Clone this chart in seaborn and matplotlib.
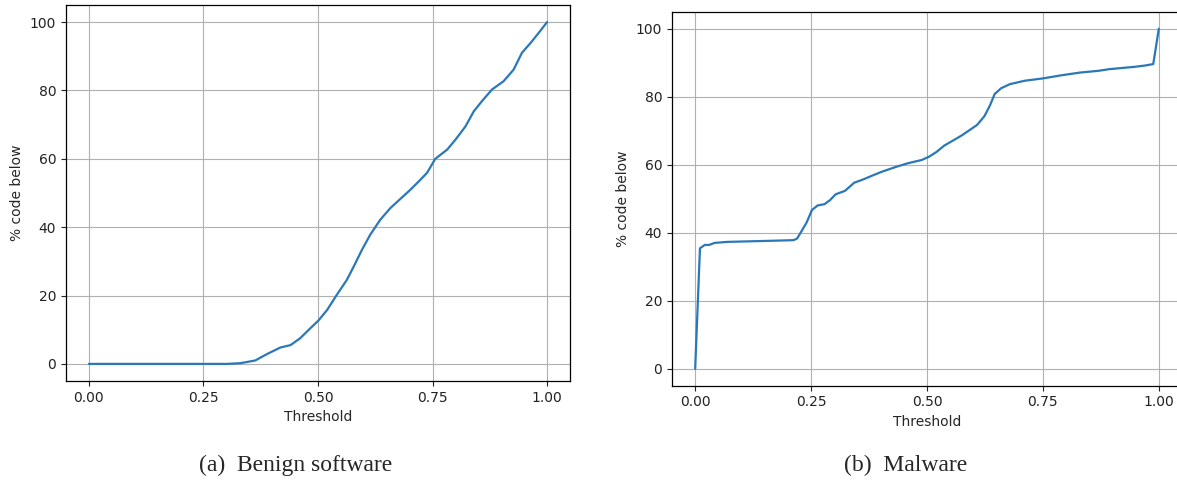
import numpy as np
import pandas as pd
import matplotlib
matplotlib.use("Agg")
import matplotlib.pyplot as plt
import seaborn as sns

# Cumulative share of code below each detection threshold
benign_threshold = [0.0, 0.10, 0.20, 0.30, 0.33, 0.363, 0.389, 0.418, 0.44, 0.461, 0.483,
                    0.501, 0.52, 0.541, 0.563, 0.578, 0.596, 0.614, 0.636, 0.658,
                    0.68, 0.702, 0.72, 0.738, 0.756, 0.782, 0.80, 0.822, 0.84,
                    0.858, 0.88, 0.905, 0.927, 0.945, 0.964, 0.982, 1.0]
benign_pct = [0.0, 0.0, 0.0, 0.0, 0.2, 1.0, 2.9, 4.8, 5.5, 7.5, 10.4,
              12.7, 15.8, 20.2, 24.6, 28.5, 33.4, 37.8, 42.2, 45.6,
              48.3, 51.0, 53.4, 55.9, 60.0, 62.7, 65.6, 69.5, 73.9,
              76.9, 80.3, 82.7, 86.1, 91.0, 93.9, 96.9, 100.0]

malware_threshold = [0.0, 0.0103, 0.0206, 0.03, 0.042, 0.07, 0.157, 0.212, 0.22, 0.24,
                     0.252, 0.264, 0.279, 0.291, 0.303, 0.323, 0.343, 0.363, 0.382,
                     0.402, 0.434, 0.458, 0.489, 0.505, 0.521, 0.537, 0.561, 0.576,
                     0.592, 0.608, 0.624, 0.636, 0.646, 0.66, 0.679, 0.711, 0.751,
                     0.79, 0.83, 0.869, 0.893, 0.949, 0.972, 0.988, 1.0]
malware_pct = [0.0, 35.4, 36.4, 36.4, 37.0, 37.3, 37.6, 37.8, 38.3, 42.9,
               46.7, 48.0, 48.4, 49.6, 51.3, 52.3, 54.7, 55.7, 56.8,
               57.9, 59.4, 60.4, 61.4, 62.4, 63.8, 65.6, 67.5, 68.7,
               70.2, 71.7, 74.3, 77.5, 80.8, 82.5, 83.7, 84.7, 85.4,
               86.3, 87.1, 87.6, 88.1, 88.8, 89.2, 89.6, 100.0]

x_ticks = [0.0, 0.25, 0.5, 0.75, 1.0]
captions = ["(a)  Benign software", "(b)  Malware"]

sns.set_style("ticks")
plt.rcParams["font.family"] = ["DejaVu Sans"]

fig = plt.figure(figsize=(11.77, 4.82), dpi=100)
ax_b = fig.add_axes([66 / 1177, 101 / 482, 504 / 1177, 376 / 482])
ax_m = fig.add_axes([672 / 1177, 96.3 / 482, 510 / 1177, 374 / 482])

panels = [
    (ax_b, benign_threshold, benign_pct),
    (ax_m, malware_threshold, malware_pct),
]
for ax, xs, ys in panels:
    df = pd.DataFrame({"Threshold": xs, "% code below": ys})
    sns.lineplot(data=df, x="Threshold", y="% code below", ax=ax,
                 color="#2a78b8", linewidth=1.6, sort=False)
    ax.set_xticks(x_ticks)
    ax.set_xticklabels([f"{t:.2f}" for t in x_ticks])
    ax.set_xlim(-0.05, 1.05)
    ax.set_ylim(-5, 105)
    ax.grid(True, color="#b0b0b0", linewidth=0.8)
    ax.set_axisbelow(True)
    for s in ax.spines.values():
        s.set_visible(True)
        s.set_color("black")
        s.set_linewidth(0.9)
    ax.tick_params(labelsize=10, colors="#222222", length=3.5)
    ax.set_xlabel("Threshold", fontsize=10)
    ax.set_ylabel("% code below", fontsize=10)

fig.text(296 / 1177, 0.035, captions[0], ha="center", va="center",
         fontsize=17, family=["Liberation Serif"])
fig.text(906 / 1177, 0.035, captions[1], ha="center", va="center",
         fontsize=17, family=["Liberation Serif"])

fig.savefig("out.png", dpi=100)
